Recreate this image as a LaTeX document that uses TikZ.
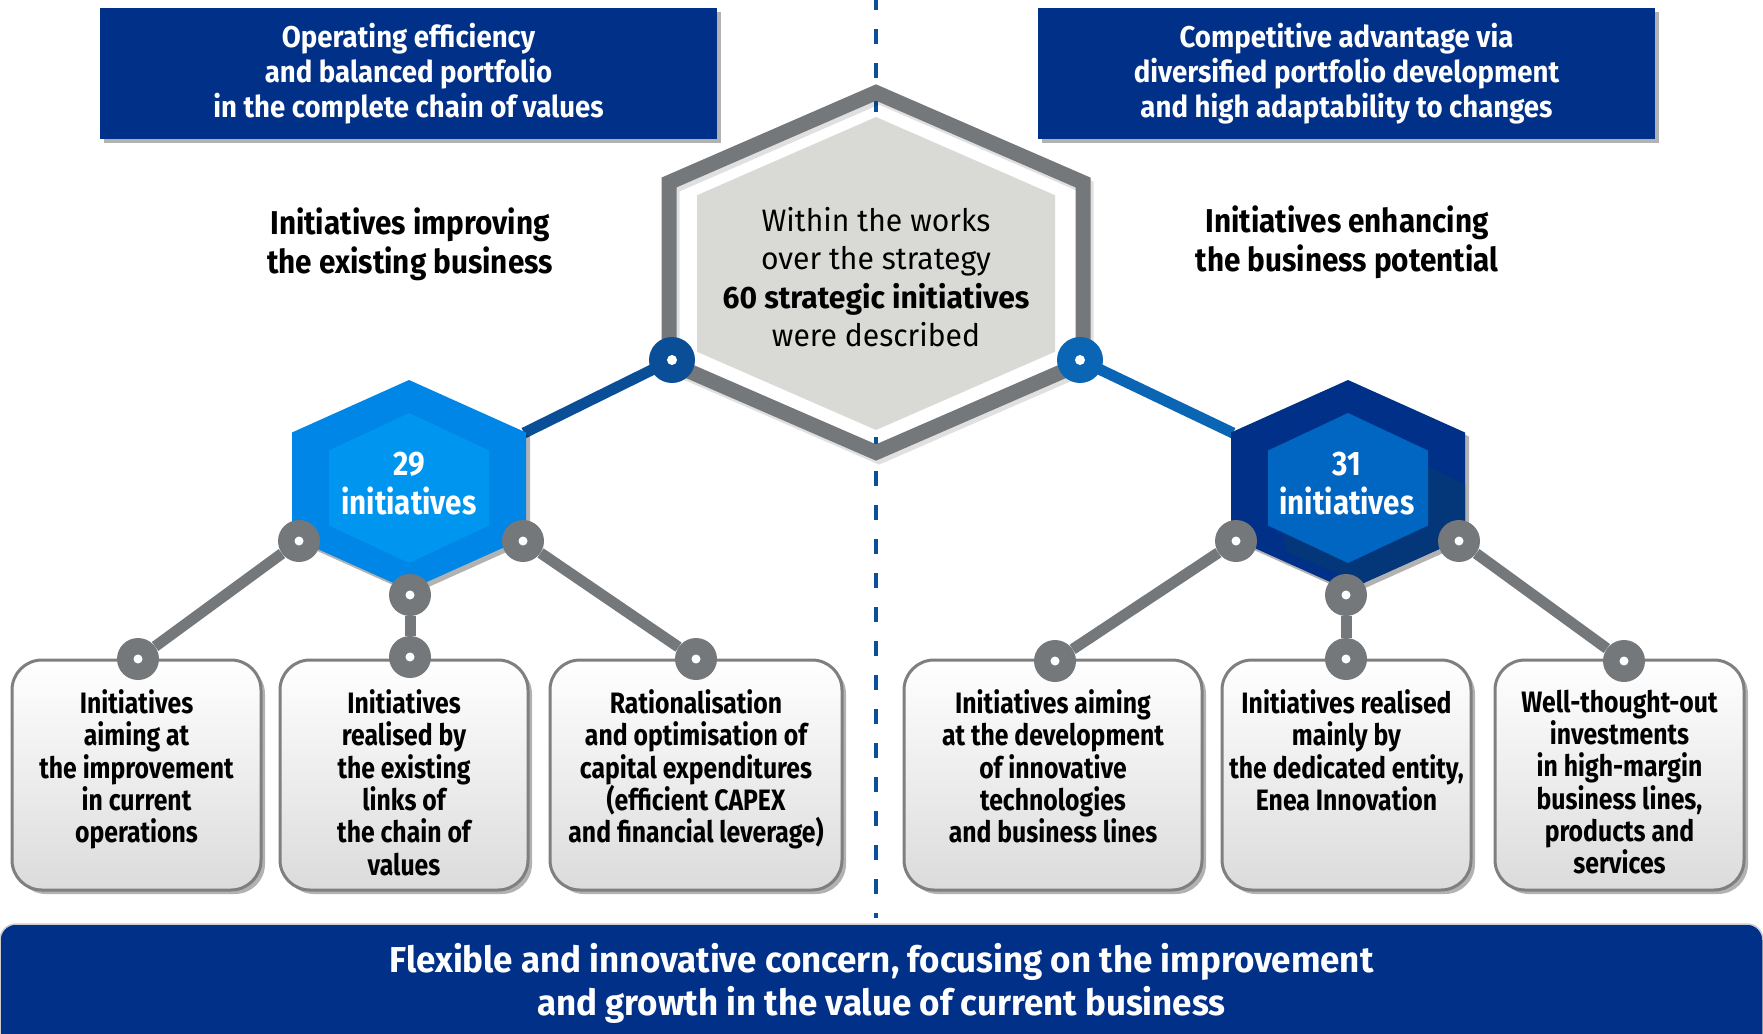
\documentclass[tikz,border=0pt]{standalone}
\usepackage{fontspec}
\setmainfont[FakeStretch=0.84]{Fira Sans}
\newfontfamily\ctrfont[FakeStretch=0.97]{Fira Sans}
\newfontfamily\goalfont[FakeStretch=0.92]{Fira Sans}
\newfontfamily\headfont[FakeStretch=0.90]{Fira Sans}
\newfontfamily\hexfont[FakeStretch=0.87]{Fira Sans}
\usetikzlibrary{positioning}
\usetikzlibrary{shadows}
\usetikzlibrary{backgrounds}

\definecolor{navy}{HTML}{003087}
\definecolor{navyshade}{HTML}{04367A}
\definecolor{divblue}{HTML}{0A4F9A}
\definecolor{linkgrey}{HTML}{75787B}
\definecolor{hexgrey}{HTML}{D9D9D6}
\definecolor{lightouter}{HTML}{0086E6}
\definecolor{lightinner}{HTML}{0096F0}
\definecolor{darkinner}{HTML}{0066C2}
\definecolor{leftlink}{HTML}{0A4E98}
\definecolor{rightlink}{HTML}{0A66B4}
\definecolor{boxline}{HTML}{7F7F7F}

% flattened hexagon: centre x, centre y, half height, half width
\newcommand{\hexpath}[4]{(#1,#2-#3) -- (#1+#4,#2-#3/2) -- (#1+#4,#2+#3/2) -- (#1,#2+#3) -- (#1-#4,#2+#3/2) -- (#1-#4,#2-#3/2) -- cycle}

\tikzset{
  softshadow/.style={drop shadow={shadow xshift=4pt, shadow yshift=-4pt, opacity=0.3, fill=black}},
  divider/.style={draw=divblue, line width=4pt, dash pattern=on 15pt off 19pt, dash phase=5pt},
  topbox/.style={rectangle, fill=navy, text=white, font=\goalfont\fontsize{30}{35}\selectfont\bfseries,
    align=center, minimum width=617pt, minimum height=131pt, inner sep=0pt, softshadow},
  heading/.style={font=\headfont\fontsize{33}{39}\selectfont\bfseries, align=center, inner sep=0pt},
  centertext/.style={font=\ctrfont\fontsize{31}{38.5}\selectfont, align=center, inner sep=0pt},
  hextext/.style={font=\hexfont\fontsize{34}{39}\selectfont\bfseries, text=white, align=center, inner sep=0pt},
  stepbox/.style={rectangle, rounded corners=30pt, draw=boxline, line width=3pt,
    top color=white, middle color=white, bottom color=black!14,
    minimum height=230pt, inner sep=0pt, softshadow},
  boxtext/.style={font=\fontsize{29.5}{32.3}\selectfont\bfseries, align=center, inner sep=0pt},
  bluedot/.style={circle, fill=#1, minimum size=46pt, inner sep=0pt,
    path picture={\fill[white] (path picture bounding box.center) circle (5pt);}},
  greydot/.style={circle, fill=linkgrey, minimum size=42pt, inner sep=0pt,
    path picture={\fill[white] (path picture bounding box.center) circle (4.5pt);}},
  greylink/.style={draw=linkgrey, line width=11pt},
  bluelink/.style={draw=#1, line width=11pt},
  banner/.style={rectangle, fill=navy, draw=black!20, line width=1.5pt, rounded corners=16pt,
    minimum width=1763pt, minimum height=134pt, inner sep=0pt},
  bannertext/.style={font=\ctrfont\fontsize{36}{43}\selectfont\bfseries, text=white, align=center, inner sep=0pt}
}

\begin{document}
\begin{tikzpicture}[x=1pt, y=-1pt]
  \useasboundingbox (0,0) rectangle (1763,1033);

  % dashed divider
  \coordinate (divtop) at (876,0);
  \coordinate (divbot) at (876,918);
  \draw[divider] (divtop) -- (divbot);

  % goals
  \node[topbox] (goalL) at (408.5,73.5) {Operating efficiency\\and balanced portfolio\\in the complete chain of values};
  \node[topbox] (goalR) at (1346.5,73.5) {Competitive advantage via\\diversified portfolio development\\and high adaptability to changes};

  \node[heading] (headL) at (410,244) {Initiatives improving\\the existing business};
  \node[heading] (headR) at (1347,242) {Initiatives enhancing\\the business potential};

  % central hexagon
  \draw[line width=15pt, black, opacity=0.12, xshift=3pt, yshift=-4pt] \hexpath{876}{272.5}{180}{207};
  \draw[line width=15pt, linkgrey] \hexpath{876}{272.5}{180}{207};
  \fill[hexgrey] \hexpath{876}{273.5}{156.5}{179};
  \node[centertext] (total) at (876,277) {Within the works\\over the strategy\\\textbf{60 strategic initiatives}\\were described};

  \coordinate (hexL-ur) at (524,433);
  \coordinate (hexR-ul) at (1233,433);

  % left group
  \fill[lightouter, softshadow] \hexpath{409}{485}{105}{117};
  \fill[lightinner] \hexpath{409}{488}{75}{80};
  \node[hextext] (numL) at (409,484) {29\\initiatives};

  % right group
  \fill[navy, softshadow] \hexpath{1348}{485}{105}{117};
  \begin{scope}
    \clip \hexpath{1348}{485}{105}{117};
    \fill[navyshade] (1430,467) -- (1600,552) -- (1600,700) -- (1400,600) -- (1287,552) -- (1270,480) -- cycle;
  \end{scope}
  \fill[darkinner] \hexpath{1348}{488}{75}{80};
  \node[hextext] (numR) at (1347,484) {31\\initiatives};

  \node[bluedot=leftlink] (cL) at (672,360) {};
  \node[bluedot=rightlink] (cR) at (1080,360) {};

  % boxes
  \node[stepbox, minimum width=249pt] (box1) at (136.5,775) {};
  \node[stepbox, minimum width=248pt] (box2) at (404,775) {};
  \node[stepbox, minimum width=292pt] (box3) at (696,775) {};
  \node[stepbox, minimum width=298pt] (box4) at (1053,775) {};
  \node[stepbox, minimum width=249pt] (box5) at (1346.5,775) {};
  \node[stepbox, minimum width=249pt] (box6) at (1619.5,775) {};

  \node[boxtext, below=31pt of box1.north] (txt1) {Initiatives\\aiming at\\the improvement\\in current\\operations};
  \node[boxtext, below=31pt of box2.north] (txt2) {Initiatives\\realised by\\the existing\\links of\\the chain of\\values};
  \node[boxtext, below=31pt of box3.north] (txt3) {Rationalisation\\and optimisation of\\capital expenditures\\(efficient CAPEX\\and financial leverage)};
  \node[boxtext, below=31pt of box4.north] (txt4) {Initiatives aiming\\at the development\\of innovative\\technologies\\and business lines};
  \node[boxtext, below=31pt of box5.north] (txt5) {Initiatives realised\\mainly by\\the dedicated entity,\\Enea Innovation};
  \node[boxtext, below=31pt of box6.north] (txt6) {Well-thought-out\\investments\\in high-margin\\business lines,\\products and\\services};

  % dots
  \node[greydot] (hL1) at (299,541) {};
  \node[greydot] (hL2) at (410,595) {};
  \node[greydot] (hL3) at (523,541) {};
  \node[greydot] (hR1) at (1236,541) {};
  \node[greydot] (hR2) at (1346,595) {};
  \node[greydot] (hR3) at (1459,541) {};
  \node[greydot] (bL1) at (138,659) {};
  \node[greydot] (bL2) at (410,657) {};
  \node[greydot] (bL3) at (696,659) {};
  \node[greydot] (bR1) at (1055,661) {};
  \node[greydot] (bR2) at (1346,659) {};
  \node[greydot] (bR3) at (1624,661) {};

  \begin{pgfonlayer}{background}
    \draw[bluelink=leftlink] (cL.center) -- (hexL-ur);
    \draw[bluelink=rightlink] (cR.center) -- (hexR-ul);
    \draw[greylink] (hL1) -- (bL1);
    \draw[greylink] (hL2) -- (bL2);
    \draw[greylink] (hL3) -- (bL3);
    \draw[greylink] (hR1) -- (bR1);
    \draw[greylink] (hR2) -- (bR2);
    \draw[greylink] (hR3) -- (bR3);
  \end{pgfonlayer}

  % bottom banner
  \node[banner] (base) at (881.5,991) {};
  \node[bannertext] (baseText) at (881.5,983) {Flexible and innovative concern, focusing on the improvement\\and growth in the value of current business};
\end{tikzpicture}
\end{document}
